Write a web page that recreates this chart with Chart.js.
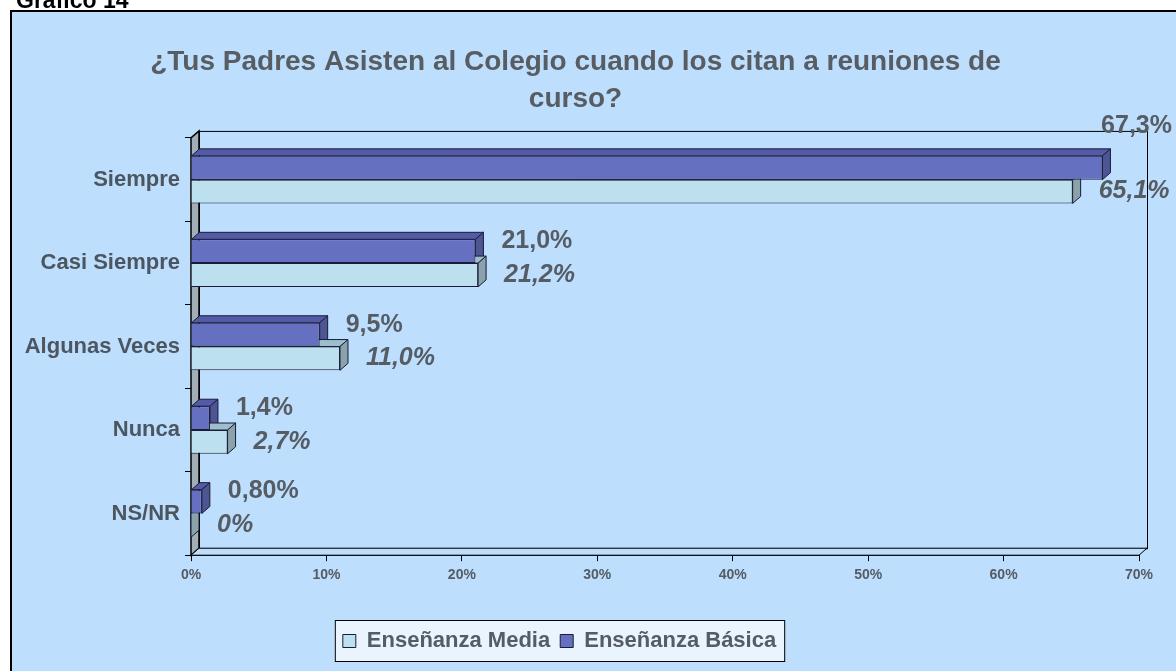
<!DOCTYPE html>
<html>
<head>
<meta charset="utf-8">
<script src="https://cdn.jsdelivr.net/npm/chart.js@4"></script>
<style>
  body { margin: 0; background: #fff; }
  #frame { position: absolute; left: 10px; top: 10px; width: 1200px; height: 700px;
           background: #BEDEFD; border-left: 2px solid #000; border-top: 2px solid #000; }
  #chart { position: absolute; left: 0; top: 0; }
</style>
</head>
<body>
<div id="frame"></div>
<canvas id="chart" width="1176" height="671"></canvas>
<script>
const categories = ["Siempre", "Casi Siempre", "Algunas Veces", "Nunca", "NS/NR"];
const basica = [67.3, 21.0, 9.5, 1.4, 0.8];
const media = [65.1, 21.2, 11.0, 2.7, 0];
const basicaLabels = ["67,3%", "21,0%", "9,5%", "1,4%", "0,80%"];
const mediaLabels = ["65,1%", "21,2%", "11,0%", "2,7%", "0%"];

const textColor = "#555C63";
const depthX = 8, depthY = 7;
Chart.defaults.font.family = 'Arial, "Liberation Sans", sans-serif';

// back wall, floor, side wall and the 3d faces of the bars
const depthPlugin = {
  id: "depth",
  beforeDraw(chart) {
    const ctx = chart.ctx;
    ctx.save();
    ctx.fillStyle = "#000";
    ctx.textBaseline = "alphabetic";
    ctx.textAlign = "left";
    ctx.font = "bold 23px Arial, 'Liberation Sans'";
    ctx.fillText("Gráfico 14", 16, 8);
    // legend box
    const boxes = chart.legend.legendHitBoxes;
    if (boxes && boxes.length) {
      const l = Math.min(...boxes.map(b => b.left)) - 8;
      const r = Math.max(...boxes.map(b => b.left + b.width)) + 8;
      const t = Math.min(...boxes.map(b => b.top)) - 10;
      const btm = Math.max(...boxes.map(b => b.top + b.height)) + 9;
      ctx.fillStyle = "#EAF4FE";
      ctx.fillRect(l, t, r - l, btm - t);
      ctx.strokeStyle = "#000";
      ctx.lineWidth = 1;
      ctx.strokeRect(l + 0.5, t + 0.5, r - l, btm - t);
    }
    ctx.restore();
  },
  beforeDatasetsDraw(chart) {
    const ctx = chart.ctx;
    const a = chart.chartArea;
    ctx.save();
    ctx.lineWidth = 1;
    ctx.strokeStyle = "#000";
    // back wall
    ctx.strokeRect(a.left + depthX + 0.5, a.top - depthY + 0.5, a.right - a.left, a.bottom - a.top);
    // left wall
    ctx.beginPath();
    ctx.moveTo(a.left, a.top);
    ctx.lineTo(a.left + depthX, a.top - depthY);
    ctx.lineTo(a.left + depthX, a.bottom - depthY);
    ctx.lineTo(a.left, a.bottom);
    ctx.closePath();
    ctx.fillStyle = "#A2AEB6";
    ctx.fill();
    ctx.lineWidth = 1.5;
    ctx.stroke();
    ctx.lineWidth = 1;
    // floor
    ctx.beginPath();
    ctx.moveTo(a.left, a.bottom);
    ctx.lineTo(a.left + depthX, a.bottom - depthY);
    ctx.lineTo(a.right + depthX, a.bottom - depthY);
    ctx.lineTo(a.right, a.bottom);
    ctx.closePath();
    ctx.fillStyle = "#BEDEFD";
    ctx.fill();
    ctx.stroke();
    // bar faces
    chart.data.datasets.forEach((ds, i) => {
      const meta = chart.getDatasetMeta(i);
      meta.data.forEach(bar => {
        const top = bar.y - bar.height / 2;
        const bottom = bar.y + bar.height / 2;
        ctx.strokeStyle = "#1a1a3a";
        ctx.beginPath();
        ctx.moveTo(bar.base, top);
        ctx.lineTo(bar.x, top);
        ctx.lineTo(bar.x + depthX, top - depthY);
        ctx.lineTo(bar.base + depthX, top - depthY);
        ctx.closePath();
        ctx.fillStyle = ds.topColor;
        ctx.fill();
        ctx.stroke();
        ctx.beginPath();
        ctx.moveTo(bar.x, top);
        ctx.lineTo(bar.x + depthX, top - depthY);
        ctx.lineTo(bar.x + depthX, bottom - depthY);
        ctx.lineTo(bar.x, bottom);
        ctx.closePath();
        ctx.fillStyle = ds.sideColor;
        ctx.fill();
        ctx.stroke();
      });
    });
    ctx.restore();
  },
  afterDatasetsDraw(chart) {
    const ctx = chart.ctx;
    ctx.save();
    ctx.fillStyle = textColor;
    ctx.textBaseline = "middle";
    ctx.textAlign = "left";
    chart.data.datasets.forEach((ds, i) => {
      const meta = chart.getDatasetMeta(i);
      ctx.font = (ds.italic ? "italic " : "") + "bold 25px Arial, 'Liberation Sans'";
      meta.data.forEach((bar, j) => {
        const txt = ds.valueLabels[j];
        const w = ctx.measureText(txt).width;
        let x = bar.x + 26;
        let y = bar.y + ds.labelShift;
        if (x + w > chart.width - 4) {
          x = chart.width - 4 - w;
          y -= 32;
        }
        ctx.fillText(txt, x, y);
      });
    });
    ctx.restore();
  },
  afterLayout(chart) {
    chart.titleBlock.left += 6;
    chart.titleBlock.right += 6;
    chart.legend.left -= 10;
    chart.legend.right -= 10;
  }
};

const chart = new Chart(document.getElementById("chart").getContext("2d"), {
  type: "bar",
  data: {
    labels: categories,
    datasets: [
      {
        label: "Enseñanza Básica",
        data: basica,
        backgroundColor: "#6670C0",
        topColor: "#535BA6",
        sideColor: "#4D5592",
        borderColor: "#1a1a3a",
        borderWidth: 1,
        valueLabels: basicaLabels,
        labelShift: -10,
        italic: false,
      },
      {
        label: "Enseñanza Media",
        data: media,
        backgroundColor: "#BCE0EE",
        topColor: "#9DBFCC",
        sideColor: "#8AA2AA",
        borderColor: "#1a1a3a",
        borderWidth: 1,
        valueLabels: mediaLabels,
        labelShift: 0,
        italic: true,
      },
    ],
  },
  options: {
    indexAxis: "y",
    responsive: false,
    animation: false,
    layout: { padding: { left: 0, right: 37, top: 0, bottom: 9 } },
    datasets: { bar: { categoryPercentage: 0.57, barPercentage: 1 } },
    scales: {
      x: {
        min: 0,
        max: 70,
        ticks: { stepSize: 10, callback: (v) => v + "%", color: textColor, padding: 6,
                 font: { size: 14, weight: "bold" } },
        grid: { drawOnChartArea: false, tickLength: 6, color: "#000" },
        border: { color: "#000" },
        afterFit: (s) => { s.height += 30; },
      },
      y: {
        ticks: { color: "#4C5660", padding: 5, font: { size: 22, weight: "bold" } },
        grid: { drawOnChartArea: false, tickLength: 6, color: "#000", offset: true },
        border: { color: "#000" },
        afterFit: (s) => { s.width = 191; },
      },
    },
    plugins: {
      title: {
        display: true,
        text: ["¿Tus Padres Asisten al Colegio cuando los citan a reuniones de", "curso?"],
        color: "#575D63",
        font: { size: 28, weight: "bold", lineHeight: 1.32 },
        padding: { top: 44, bottom: 20 },
      },
      legend: {
        position: "bottom",
        reverse: true,
        labels: { boxWidth: 13, boxHeight: 13, color: textColor, padding: 10,
                  font: { size: 22, weight: "bold" } },
      },
      tooltip: { enabled: false },
    },
  },
  plugins: [depthPlugin],
});
</script>
</body>
</html>
